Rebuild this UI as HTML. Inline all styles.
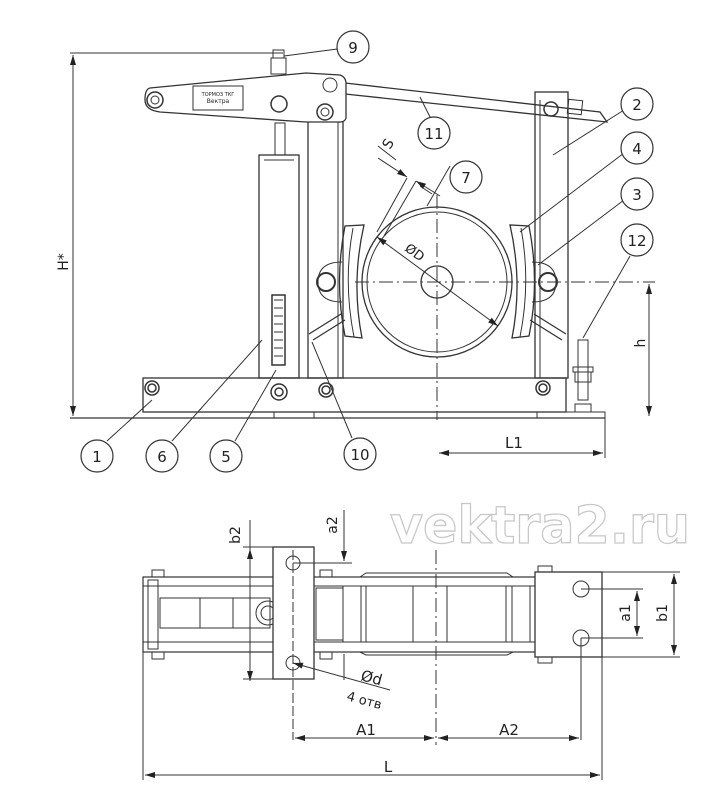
<!DOCTYPE html>
<html><head><meta charset="utf-8"><style>
html,body{margin:0;padding:0;background:#fff;}
svg{display:block}
text{font-family:"DejaVu Sans","Liberation Sans",sans-serif;fill:#222}
</style></head><body>
<svg width="714" height="808" viewBox="0 0 714 808" xmlns="http://www.w3.org/2000/svg">
<defs>
<marker id="a" markerWidth="10" markerHeight="6" refX="10" refY="3" orient="auto-start-reverse" markerUnits="userSpaceOnUse"><path d="M0,0 L10,3 L0,6 z" fill="#222"/></marker>
</defs>
<g fill="none" stroke="#333" stroke-width="1">
<line x1="70" y1="53" x2="283" y2="53"/>
<line x1="73" y1="55" x2="73" y2="416" marker-start="url(#a)" marker-end="url(#a)"/>
<line x1="70" y1="418" x2="605" y2="418" stroke-width="1.3"/>
<rect x="143" y="378" width="423" height="34" stroke-width="1.3"/>
<rect x="274" y="412" width="40" height="6"/>
<rect x="537" y="412" width="68" height="6"/>
<g stroke-width="1.5">
<circle cx="152" cy="388" r="7"/><circle cx="152" cy="388" r="4"/>
<circle cx="279" cy="392" r="8"/><circle cx="279" cy="392" r="4"/>
<circle cx="326" cy="390" r="7"/><circle cx="326" cy="390" r="4"/>
<circle cx="543" cy="388" r="7"/><circle cx="543" cy="388" r="4"/>
</g>
<rect x="259" y="155" width="40" height="223" stroke-width="1.3"/>
<line x1="264" y1="160" x2="294" y2="160"/>
<rect x="275" y="123" width="10" height="32"/>
<rect x="272" y="295" width="13" height="70" stroke-width="1.5"/>
<path d="M274,300h9M274,308h9M274,316h9M274,324h9M274,332h9M274,340h9M274,348h9M274,356h9"/>
<rect x="273" y="50" width="11" height="8"/>
<rect x="271" y="58" width="15" height="16"/>
<rect x="308" y="92" width="35" height="286" stroke-width="1.3"/>
<line x1="338" y1="92" x2="338" y2="378"/>
<rect x="535" y="92" width="33" height="286" stroke-width="1.3"/>
<line x1="540" y1="100" x2="540" y2="378"/>
<path d="M345,83 L600,112 L607,122 L345,94" stroke-width="1.3"/>
<rect x="568" y="100" width="14" height="14" transform="rotate(6 575 107)"/>
<circle cx="551" cy="109" r="7" stroke-width="1.5"/>
<path d="M150,88 L306,73 L340,75 Q346,77 346,84 L346,118 Q345,122 340,122 L306,122 L160,112 Q145,110 145,100 Q145,89 150,88 Z" stroke-width="1.3" fill="#fff"/>
<circle cx="155" cy="100" r="8" stroke-width="1.5"/><circle cx="155" cy="100" r="4"/>
<circle cx="279" cy="104" r="8" stroke-width="1.5"/>
<circle cx="330" cy="85" r="7" fill="#fff"/>
<circle cx="325" cy="112" r="8" stroke-width="1.5"/><circle cx="325" cy="112" r="4"/>
<rect x="193" y="86" width="50" height="24"/>
<path d="M437,195 V420" stroke-dasharray="14 4 2 4"/>
<path d="M355,282 H655" stroke-dasharray="14 4 2 4"/>
<circle cx="437" cy="282" r="75" stroke-width="1.3"/>
<circle cx="437" cy="282" r="70"/>
<circle cx="437" cy="282" r="16" stroke-width="1.3"/>
<path d="M345,226 Q334,282 345,336 L362,338 Q351,282 364,225 Z" stroke-width="1.3"/>
<path d="M353,228 Q343,282 354,337"/>
<path d="M529,226 Q540,282 529,336 L512,338 Q523,282 510,225 Z" stroke-width="1.3"/>
<path d="M521,228 Q531,282 520,337"/>
<path d="M342,262 Q318,262 318,282 Q318,302 342,302"/>
<path d="M532,262 Q556,262 556,282 Q556,302 532,302"/>
<circle cx="326" cy="282" r="9" stroke-width="2"/>
<circle cx="548" cy="282" r="9" stroke-width="2"/>
<path d="M345,320 L313,340 M341,314 L309,334" stroke-width="1.3"/>
<path d="M530,320 L562,340 M534,314 L566,334" stroke-width="1.3"/>
<rect x="578" y="340" width="10" height="60"/>
<rect x="573" y="367" width="20" height="5"/>
<rect x="575" y="372" width="16" height="10"/>
<rect x="575" y="404" width="16" height="8"/>
<line x1="377" y1="232" x2="407" y2="178"/>
<line x1="384" y1="236" x2="416" y2="181"/>
<line x1="378" y1="146" x2="396" y2="160"/>
<line x1="420" y1="186" x2="432" y2="194"/>
<line x1="378" y1="158" x2="407" y2="177" marker-end="url(#a)"/>
<line x1="440" y1="196" x2="416" y2="181" marker-end="url(#a)"/>
<line x1="377" y1="237" x2="498" y2="326" marker-start="url(#a)" marker-end="url(#a)"/>
<line x1="649" y1="284" x2="649" y2="416" marker-start="url(#a)" marker-end="url(#a)"/>
<line x1="605" y1="418" x2="605" y2="458"/>
<line x1="439" y1="453" x2="603" y2="453" marker-start="url(#a)" marker-end="url(#a)"/>
<path d="M284,56 L345,48 M432,121 L420,97 M553,155 L624,110 M520,232 L624,153 M538,265 L624,200 M583,338 L630,256 M107,441 L152,400 M172,441 L262,340 M235,441 L276,370 M352,438 L312,342 M450,166 L427,206"/>
<g stroke-width="1.2" fill="#fff">
<circle cx="353" cy="47" r="16"/><circle cx="637" cy="104" r="16"/><circle cx="434" cy="133" r="16"/>
<circle cx="637" cy="148" r="16"/><circle cx="466" cy="177" r="16"/><circle cx="637" cy="194" r="16"/>
<circle cx="637" cy="240" r="16"/><circle cx="97" cy="456" r="16"/><circle cx="162" cy="456" r="16"/>
<circle cx="226" cy="456" r="16"/><circle cx="360" cy="454" r="16"/>
</g>
<line x1="436" y1="550" x2="436" y2="745" stroke-dasharray="14 4 2 4"/>
<rect x="143" y="577" width="394" height="75" stroke-width="1.2"/>
<line x1="143" y1="586" x2="537" y2="586"/><line x1="143" y1="642" x2="537" y2="642"/>
<rect x="148" y="580" width="10" height="69"/>
<rect x="160" y="598" width="110" height="30"/>
<line x1="200" y1="598" x2="200" y2="628"/><line x1="233" y1="598" x2="233" y2="628"/>
<circle cx="268" cy="613" r="12"/><circle cx="268" cy="613" r="7"/>
<path d="M360,577 L366,573 H507 L513,577 M360,652 L366,655 H507 L513,652"/>
<path d="M343,586V642 M361,586V642 M366,586V642 M413,586V642 M447,586V642 M506,586V642 M512,586V642 M530,586V642"/>
<rect x="316" y="588" width="27" height="52"/>
<rect x="273" y="547" width="41" height="132" stroke-width="1.3" fill="#fff"/>
<line x1="293" y1="550" x2="293" y2="740" stroke-dasharray="10 3"/>
<circle cx="293" cy="563" r="7"/><circle cx="293" cy="663" r="7"/>
<rect x="535" y="572" width="67" height="85" stroke-width="1.3" fill="#fff"/>
<circle cx="581" cy="589" r="8"/><circle cx="581" cy="638" r="8"/>
<line x1="581" y1="638" x2="581" y2="740"/>
<rect x="152" y="570" width="12" height="7"/><rect x="152" y="652" width="12" height="7"/>
<rect x="320" y="570" width="12" height="7"/><rect x="320" y="652" width="12" height="7"/>
<rect x="538" y="566" width="14" height="6"/><rect x="538" y="657" width="14" height="6"/>
<line x1="243" y1="547" x2="273" y2="547"/><line x1="243" y1="679" x2="273" y2="679"/>
<line x1="250" y1="520" x2="250" y2="681" marker-end="url(#a)"/>
<line x1="250" y1="560" x2="250" y2="549" marker-end="url(#a)"/>
<line x1="293" y1="563" x2="352" y2="563"/>
<line x1="344" y1="510" x2="344" y2="561" marker-end="url(#a)"/>
<line x1="344" y1="680" x2="344" y2="654"/>
<line x1="602" y1="572" x2="680" y2="572"/><line x1="602" y1="657" x2="680" y2="657"/>
<line x1="674" y1="574" x2="674" y2="655" marker-start="url(#a)" marker-end="url(#a)"/>
<line x1="581" y1="589" x2="643" y2="589"/><line x1="581" y1="638" x2="643" y2="638"/>
<line x1="637" y1="591" x2="637" y2="636" marker-start="url(#a)" marker-end="url(#a)"/>
<line x1="293" y1="663" x2="390" y2="690" marker-start="url(#a)"/>
<line x1="143" y1="652" x2="143" y2="780"/><line x1="602" y1="657" x2="602" y2="780"/>
<line x1="295" y1="738" x2="434" y2="738" marker-start="url(#a)" marker-end="url(#a)"/>
<line x1="438" y1="738" x2="579" y2="738" marker-start="url(#a)" marker-end="url(#a)"/>
<line x1="145" y1="775" x2="600" y2="775" marker-start="url(#a)" marker-end="url(#a)"/>
</g>
<g font-size="15" text-anchor="middle">
<text x="353" y="53">9</text><text x="637" y="110">2</text><text x="434" y="139">11</text>
<text x="637" y="154">4</text><text x="466" y="183">7</text><text x="637" y="200">3</text>
<text x="637" y="246">12</text><text x="97" y="462">1</text><text x="162" y="462">6</text>
<text x="226" y="462">5</text><text x="360" y="460">10</text>
<text x="514" y="448">L1</text>
<text x="366" y="735">A1</text><text x="509" y="735">A2</text><text x="388" y="772">L</text>
</g>
<text x="68" y="262" font-size="14" text-anchor="middle" transform="rotate(-90 68 262)">H*</text>
<text x="645" y="343" font-size="14" text-anchor="middle" transform="rotate(-90 645 343)">h</text>
<text x="390" y="150" font-size="14" transform="rotate(-60 390 150)">S</text>
<text x="404" y="250" font-size="13" transform="rotate(36 404 250)">ØD</text>
<text x="240" y="535" font-size="14" text-anchor="middle" transform="rotate(-90 240 535)">b2</text>
<text x="337" y="525" font-size="14" text-anchor="middle" transform="rotate(-90 337 525)">a2</text>
<text x="630" y="613" font-size="14" text-anchor="middle" transform="rotate(-90 630 613)">a1</text>
<text x="667" y="613" font-size="14" text-anchor="middle" transform="rotate(-90 667 613)">b1</text>
<text x="360" y="680" font-size="15" transform="rotate(15 360 680)">Ød</text>
<text x="346" y="700" font-size="13" transform="rotate(15 346 700)">4 отв</text>
<text x="390" y="543" font-size="52" font-weight="bold" textLength="300" lengthAdjust="spacingAndGlyphs" stroke="#c8c8c8" stroke-width="1.3" style="fill:#fff">vektra2.ru</text>
<text x="218" y="96" font-size="5" text-anchor="middle">ТОРМОЗ ТКГ</text>
<text x="218" y="103" font-size="6" text-anchor="middle">Вектра</text>
</svg>
</body></html>
